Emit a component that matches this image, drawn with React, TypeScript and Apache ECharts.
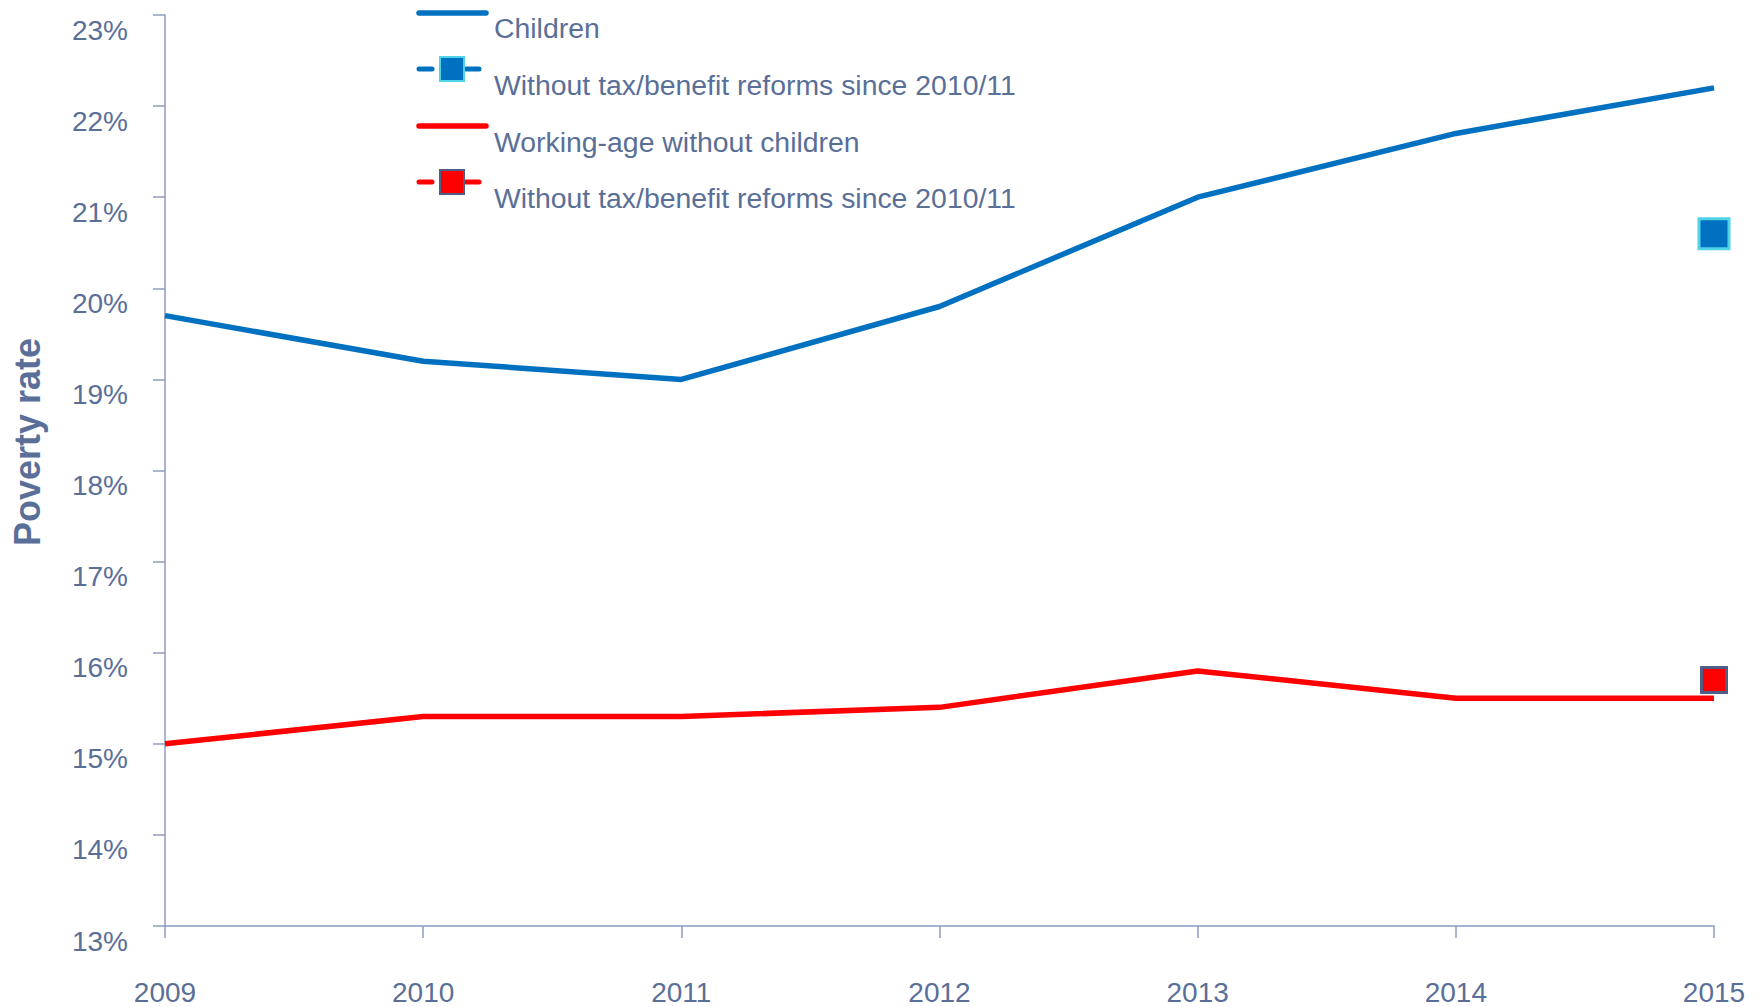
import React, { useEffect, useRef } from "react";
import * as echarts from "echarts";

const years = ["2009", "2010", "2011", "2012", "2013", "2014", "2015"];
const children = [19.7, 19.2, 19.0, 19.8, 21.0, 21.7, 22.2];
const workingAge = [15.0, 15.3, 15.3, 15.4, 15.8, 15.5, 15.5];
const childrenNoReform = [["2015", 20.6]];
const workingAgeNoReform = [["2015", 15.7]];
const legendNames = [
  "Children",
  "Without tax/benefit reforms since 2010/11",
  "Working-age without children",
  "Without tax/benefit reforms since 2010/11",
];
const yAxisTitle = "Poverty rate";

const BLUE = "#0070C0";
const RED = "#FF0000";
const TEXT = "#5A6F98";
const AXIS = "#8C9DBE";
const FONT = "'Liberation Sans', Arial, sans-serif";

export default function App() {
  const ref = useRef<HTMLDivElement>(null);
  useEffect(() => {
    document.body.style.margin = "0";
    const chart = echarts.init(ref.current!, null, { renderer: "svg" });
    const legendText = (text: string, y: number) => ({
      type: "text",
      x: 494,
      y,
      style: { text, fill: TEXT, font: `28.4px ${FONT}`, verticalAlign: "middle", align: "left" },
    });
    const legendLine = (color: string, y: number) => ({
      type: "line",
      shape: { x1: 419, y1: y, x2: 486, y2: y },
      style: { stroke: color, lineWidth: 5.5, lineCap: "round" },
    });
    const legendMarker = (color: string, border: string, y: number) => [
      {
        type: "line",
        shape: { x1: 419, y1: y, x2: 432, y2: y },
        style: { stroke: color, lineWidth: 5, lineCap: "round" },
      },
      {
        type: "line",
        shape: { x1: 466, y1: y, x2: 479, y2: y },
        style: { stroke: color, lineWidth: 5, lineCap: "round" },
      },
      {
        type: "rect",
        shape: { x: 440, y: y - 12, width: 24, height: 24 },
        style: { fill: color, stroke: border, lineWidth: 2 },
      },
    ];
    chart.setOption({
      animation: false,
      grid: { left: 165, right: 48, top: 15, bottom: 81 },
      xAxis: {
        type: "category",
        data: years,
        boundaryGap: false,
        axisLine: { lineStyle: { color: AXIS, width: 1.5 } },
        axisTick: { alignWithLabel: true, length: 12, lineStyle: { color: AXIS, width: 1.5 } },
        axisLabel: { color: TEXT, fontSize: 28, fontFamily: FONT, margin: 52 },
      },
      yAxis: {
        type: "value",
        min: 13,
        max: 23,
        interval: 1,
        splitLine: { show: false },
        axisLine: { show: true, lineStyle: { color: AXIS, width: 1.5 } },
        axisTick: { show: true, length: 12, lineStyle: { color: AXIS, width: 1.5 } },
        axisLabel: {
          color: TEXT,
          fontSize: 28,
          fontFamily: FONT,
          margin: 37,
          formatter: "{value}%",
          verticalAlign: "top",
          padding: [1, 0, 0, 0],
        },
      },
      graphic: [
        {
          type: "text",
          x: 27,
          y: 442,
          rotation: Math.PI / 2,
          style: {
            text: yAxisTitle,
            fill: TEXT,
            font: `bold 36px ${FONT}`,
            align: "center",
            verticalAlign: "middle",
          },
        },
        legendLine(BLUE, 13),
        legendText(legendNames[0], 27.5),
        ...legendMarker(BLUE, "#4FD3E8", 69),
        legendText(legendNames[1], 84.5),
        legendLine(RED, 126),
        legendText(legendNames[2], 142),
        ...legendMarker(RED, "#4E5E86", 182),
        legendText(legendNames[3], 197.5),
      ],
      series: [
        {
          name: legendNames[0],
          type: "line",
          data: children,
          showSymbol: false,
          lineStyle: { color: BLUE, width: 5.5 },
          itemStyle: { color: BLUE },
          z: 2,
        },
        {
          name: legendNames[2],
          type: "line",
          data: workingAge,
          showSymbol: false,
          lineStyle: { color: RED, width: 5.5 },
          itemStyle: { color: RED },
          z: 2,
        },
        {
          name: legendNames[1],
          type: "scatter",
          data: childrenNoReform,
          symbol: "rect",
          symbolSize: 30,
          clip: false,
          itemStyle: { color: BLUE, borderColor: "#4FD3E8", borderWidth: 3, opacity: 1 },
          z: 5,
        },
        {
          name: legendNames[3],
          type: "scatter",
          data: workingAgeNoReform,
          symbol: "rect",
          symbolSize: 25,
          clip: false,
          itemStyle: { color: RED, borderColor: "#4E5E86", borderWidth: 3, opacity: 1 },
          z: 5,
        },
      ],
    });
    return () => chart.dispose();
  }, []);
  return <div ref={ref} style={{ width: 1762, height: 1007 }} />;
}
